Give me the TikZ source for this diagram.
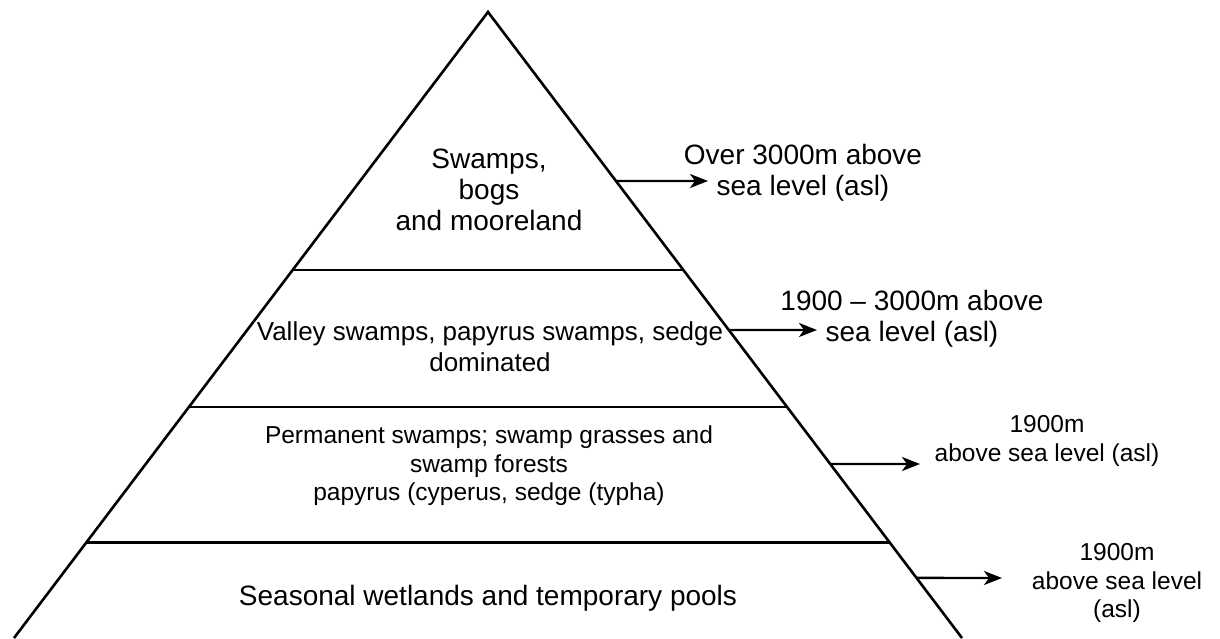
\documentclass[tikz,border=0pt]{standalone}
\usepackage{fontspec}
\setmainfont{Liberation Sans}
\usetikzlibrary{calc,arrows.meta}

\begin{document}
\begin{tikzpicture}[x=1pt,y=-1pt,
    edge/.style={line width=2.6pt, line join=miter},
    arr/.style={line width=2.4pt, -{Stealth[length=18pt,width=14pt,inset=5pt]}},
    tier/.style={align=center, inner sep=0pt},
    big/.style={font=\fontsize{28}{31}\selectfont},
    mid/.style={font=\fontsize{26}{31}\selectfont},
    small/.style={font=\fontsize{24.5}{28.5}\selectfont}]
\useasboundingbox (0,0) rectangle (1220,638);

% Pyramid outline
\coordinate (apex) at (488,12);
\coordinate (bl) at (14,638);
\coordinate (br) at (962,638);
\draw[edge] (bl) -- (apex) -- (br);
\draw[edge] ($(apex)!0.412!(bl)$) -- ($(apex)!0.412!(br)$);
\draw[edge] ($(apex)!0.631!(bl)$) -- ($(apex)!0.631!(br)$);
\draw[edge] ($(apex)!0.847!(bl)$) -- ($(apex)!0.847!(br)$);

% Tier texts
\node[tier, big] (top) at (489,190) {Swamps,\\bogs\\and mooreland};
\node[tier, mid] (valley) at (490,347) {Valley swamps, papyrus swamps, sedge\\dominated};
\node[tier, small] (perm) at (489,466) {Permanent swamps; swamp grasses and\\swamp forests\\papyrus (cyperus, sedge (typha)};
\node[tier, big] (season) at (488,598) {Seasonal wetlands and temporary pools};

% Altitude labels
\node[tier, big] (alt1) at (803,173) {Over 3000m above\\sea level (asl)};
\node[tier, big] (alt2) at (912,319) {1900 -- 3000m above\\sea level (asl)};
\node[tier, small] (alt3) at (1047,441) {1900m\\above sea level (asl)};
\node[tier, small] (alt4) at (1117,583) {1900m\\above sea level\\(asl)};

% Arrows
\coordinate (e1) at ($(apex)!0.270!(br)$);
\coordinate (h1) at (708,181);
\draw[arr] (e1) -- (h1);
\coordinate (e2) at ($(apex)!0.508!(br)$);
\coordinate (h2) at (817,330);
\draw[arr] (e2) -- (h2);
\coordinate (e3) at ($(apex)!0.722!(br)$);
\coordinate (h3) at (920,464);
\draw[arr] (e3) -- (h3);
\coordinate (e4) at ($(apex)!0.904!(br)$);
\coordinate (h4) at (1002,578);
\draw[arr] (e4) -- (h4);
\end{tikzpicture}
\end{document}
